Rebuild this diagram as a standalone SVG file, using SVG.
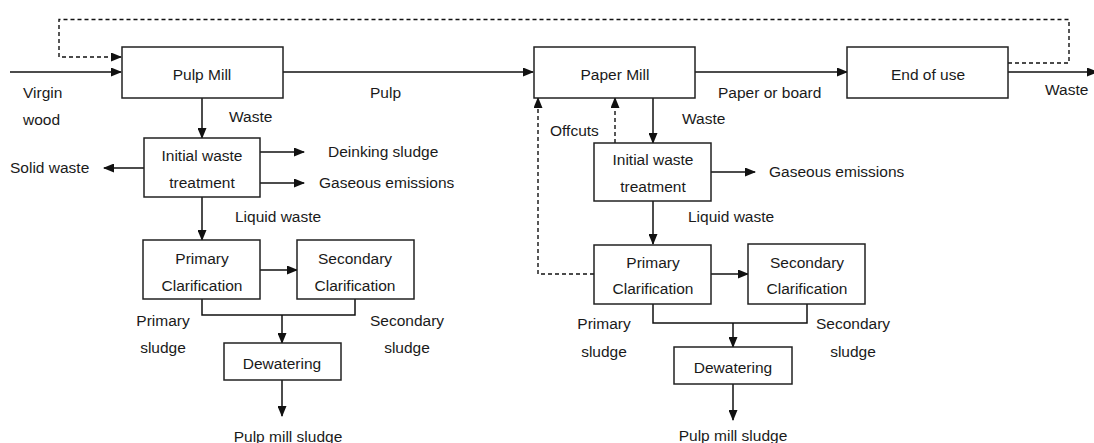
<svg xmlns="http://www.w3.org/2000/svg" width="1094" height="443" viewBox="0 0 1094 443">
<style>
.box{fill:#fff;stroke:#222;stroke-width:1.5}
.ln{fill:none;stroke:#111;stroke-width:1.5}
.dash{fill:none;stroke:#111;stroke-width:1.4;stroke-dasharray:4 3}
text{font-family:"Liberation Sans",Arial,sans-serif;font-size:15.5px;fill:#1a1a1a}
.c{text-anchor:middle}
</style>
<defs>
<marker id="ah" markerUnits="userSpaceOnUse" markerWidth="11" markerHeight="9" refX="10" refY="4.5" orient="auto" viewBox="0 0 11 9">
<path d="M0,0 L11,4.5 L0,9 z" fill="#111"/>
</marker>
</defs>
<rect width="1094" height="443" fill="#fff"/>
<g id="connectors">
<path class="ln" d="M10,72 H121" marker-end="url(#ah)"/>
<path class="dash" d="M1008,63 H1069 V19.5 H59 V57 H121" marker-end="url(#ah)"/>
<path class="ln" d="M283,72 H533" marker-end="url(#ah)"/>
<path class="ln" d="M695,72 H847" marker-end="url(#ah)"/>
<path class="ln" d="M1008,72 H1097" marker-end="url(#ah)"/>
<path class="ln" d="M202,98 V138" marker-end="url(#ah)"/>
<path class="ln" d="M144,168 H104" marker-end="url(#ah)"/>
<path class="ln" d="M260,152 H304" marker-end="url(#ah)"/>
<path class="ln" d="M260,183 H304" marker-end="url(#ah)"/>
<path class="ln" d="M202,197 V240" marker-end="url(#ah)"/>
<path class="ln" d="M260,270 H297" marker-end="url(#ah)"/>
<path class="ln" d="M202,299 V315 H355 V299"/>
<path class="ln" d="M282,315 V343" marker-end="url(#ah)"/>
<path class="ln" d="M282,380 V416" marker-end="url(#ah)"/>
<path class="ln" d="M653,98 V143" marker-end="url(#ah)"/>
<path class="dash" d="M615,143 V98" marker-end="url(#ah)"/>
<path class="ln" d="M711,172 H755" marker-end="url(#ah)"/>
<path class="ln" d="M653,201 V244" marker-end="url(#ah)"/>
<path class="dash" d="M594,274 H538 V98" marker-end="url(#ah)"/>
<path class="ln" d="M711,274 H748" marker-end="url(#ah)"/>
<path class="ln" d="M653,304 V323 H807 V304"/>
<path class="ln" d="M733,323 V347" marker-end="url(#ah)"/>
<path class="ln" d="M733,384 V420" marker-end="url(#ah)"/>
</g>
<g id="pulp-mill"><rect class="box" x="122" y="47" width="161" height="51"/><text class="c" x="202" y="80">Pulp Mill</text></g>
<g id="paper-mill"><rect class="box" x="534" y="47" width="161" height="51"/><text class="c" x="615" y="80">Paper Mill</text></g>
<g id="end-of-use"><rect class="box" x="847" y="47" width="161" height="51"/><text class="c" x="928" y="80">End of use</text></g>
<g id="iwt1"><rect class="box" x="144" y="138" width="116" height="59"/><text class="c" x="202" y="161">Initial waste</text><text class="c" x="202" y="188">treatment</text></g>
<g id="pc1"><rect class="box" x="143" y="240" width="117" height="59"/><text class="c" x="202" y="264">Primary</text><text class="c" x="202" y="291">Clarification</text></g>
<g id="sc1"><rect class="box" x="297" y="240" width="117" height="59"/><text class="c" x="355" y="264">Secondary</text><text class="c" x="355" y="291">Clarification</text></g>
<g id="dw1"><rect class="box" x="224" y="343" width="117" height="37"/><text class="c" x="282" y="369">Dewatering</text></g>
<g id="iwt2"><rect class="box" x="594" y="143" width="117" height="58"/><text class="c" x="653" y="165">Initial waste</text><text class="c" x="653" y="192">treatment</text></g>
<g id="pc2"><rect class="box" x="594" y="245" width="117" height="59"/><text class="c" x="653" y="268">Primary</text><text class="c" x="653" y="294">Clarification</text></g>
<g id="sc2"><rect class="box" x="748" y="244" width="117" height="60"/><text class="c" x="807" y="268">Secondary</text><text class="c" x="807" y="294">Clarification</text></g>
<g id="dw2"><rect class="box" x="674" y="347" width="118" height="37"/><text class="c" x="733" y="373">Dewatering</text></g>
<g id="labels">
<text x="23" y="98">Virgin</text>
<text x="23" y="125">wood</text>
<text x="229" y="122">Waste</text>
<text x="370" y="98">Pulp</text>
<text x="718" y="98">Paper or board</text>
<text x="1045" y="95">Waste</text>
<text x="10" y="173">Solid waste</text>
<text x="328" y="157">Deinking sludge</text>
<text x="319" y="188">Gaseous emissions</text>
<text x="235" y="222">Liquid waste</text>
<text x="163" y="326" class="c">Primary</text>
<text x="163" y="353" class="c">sludge</text>
<text x="407" y="326" class="c">Secondary</text>
<text x="407" y="353" class="c">sludge</text>
<text x="288" y="442" class="c">Pulp mill sludge</text>
<text x="550" y="136">Offcuts</text>
<text x="682" y="124">Waste</text>
<text x="769" y="177">Gaseous emissions</text>
<text x="688" y="222">Liquid waste</text>
<text x="604" y="329" class="c">Primary</text>
<text x="604" y="357" class="c">sludge</text>
<text x="853" y="329" class="c">Secondary</text>
<text x="853" y="357" class="c">sludge</text>
<text x="733" y="441" class="c">Pulp mill sludge</text>
</g>
</svg>
